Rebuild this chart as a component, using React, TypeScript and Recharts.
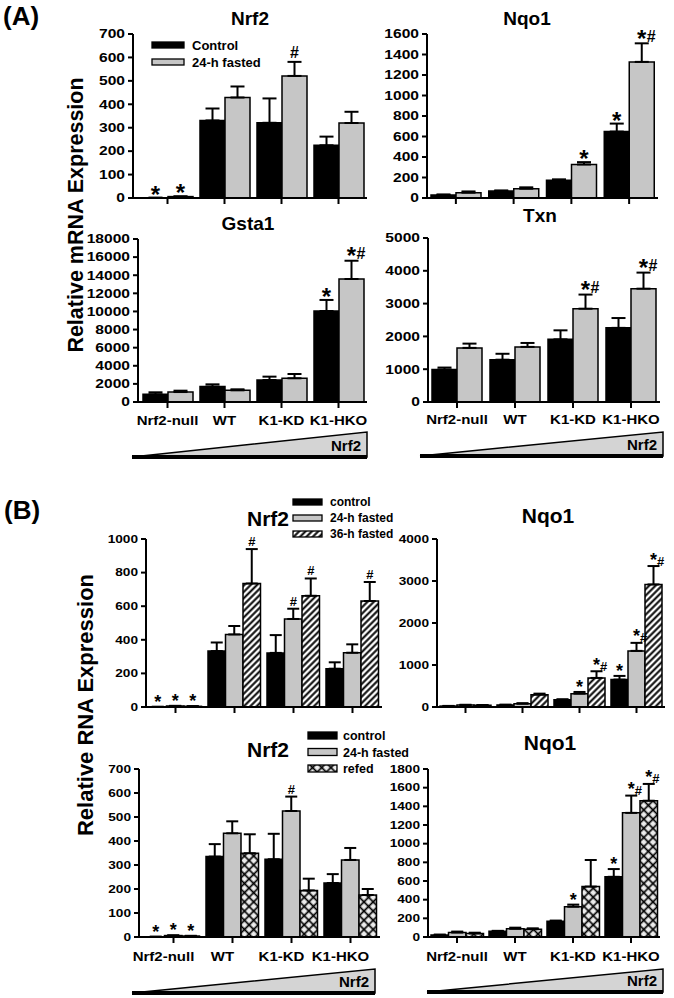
import React from 'react'
import { Bar, BarChart, ErrorBar, LabelList, XAxis, YAxis } from 'recharts'

const FONT = '"Liberation Sans", Arial, Helvetica, sans-serif'
const GRAY = '#c6c6c6'

const groups = ['Nrf2-null', 'WT', 'K1-KD', 'K1-HKO']

// (A) control vs 24-h fasted
const aNrf2Ctrl = [1, 331, 321, 225]
const aNrf2CtrlSem = [0, 51, 104, 37]
const aNrf2Fast = [6, 429, 521, 320]
const aNrf2FastSem = [1, 47, 60, 48]
const aNrf2CtrlSig = ['*', '', '', '']
const aNrf2FastSig = ['*', '', '#', '']
const aNrf2Ticks = [0, 100, 200, 300, 400, 500, 600, 700]

const aNqo1Ctrl = [29, 68, 172, 648]
const aNqo1CtrlSem = [6, 6, 10, 78]
const aNqo1Fast = [52, 91, 327, 1328]
const aNqo1FastSem = [12, 13, 23, 181]
const aNqo1CtrlSig = ['', '', '', '*']
const aNqo1FastSig = ['', '', '*', '*#']
const aNqo1Ticks = [0, 200, 400, 600, 800, 1000, 1200, 1400, 1600]

const aGsta1Ctrl = [850, 1700, 2430, 10050]
const aGsta1CtrlSem = [220, 250, 370, 1220]
const aGsta1Fast = [1100, 1290, 2620, 13580]
const aGsta1FastSem = [150, 110, 470, 2020]
const aGsta1CtrlSig = ['', '', '', '*']
const aGsta1FastSig = ['', '', '', '*#']
const aGsta1Ticks = [0, 2000, 4000, 6000, 8000, 10000, 12000, 14000, 16000, 18000]

const aTxnCtrl = [990, 1290, 1910, 2260]
const aTxnCtrlSem = [60, 180, 275, 300]
const aTxnFast = [1650, 1680, 2845, 3455]
const aTxnFastSem = [130, 120, 430, 490]
const aTxnCtrlSig = ['', '', '', '']
const aTxnFastSig = ['', '', '*#', '*#']
const aTxnTicks = [0, 1000, 2000, 3000, 4000, 5000]

// (B) upper row: control / 24-h / 36-h fasted
const bNrf2Ctrl = [1, 333, 322, 228]
const bNrf2CtrlSem = [0, 51, 106, 38]
const bNrf2F24 = [6, 432, 524, 323]
const bNrf2F24Sem = [1, 50, 61, 50]
const bNrf2F36 = [4, 735, 662, 631]
const bNrf2F36Sem = [1, 205, 103, 113]
const bNrf2CtrlSig = ['*', '', '', '']
const bNrf2F24Sig = ['*', '', '#', '']
const bNrf2F36Sig = ['*', '#', '#', '#']
const bNrf2Ticks = [0, 200, 400, 600, 800, 1000]

const bNqo1Ctrl = [22, 50, 175, 652]
const bNqo1CtrlSem = [4, 5, 8, 88]
const bNqo1F24 = [45, 80, 318, 1336]
const bNqo1F24Sem = [8, 10, 40, 191]
const bNqo1F36 = [40, 294, 692, 2918]
const bNqo1F36Sem = [8, 24, 159, 438]
const bNqo1CtrlSig = ['', '', '', '*']
const bNqo1F24Sig = ['', '', '*', '*#']
const bNqo1F36Sig = ['', '', '*#', '*#']
const bNqo1Ticks = [0, 1000, 2000, 3000, 4000]

// (B) lower row: control / 24-h fasted / refed
const cNrf2Ctrl = [1, 335, 324, 225]
const cNrf2CtrlSem = [0, 52, 106, 37]
const cNrf2F24 = [6, 432, 525, 321]
const cNrf2F24Sem = [1, 50, 60, 50]
const cNrf2Refed = [4, 349, 194, 175]
const cNrf2RefedSem = [1, 79, 49, 25]
const cNrf2CtrlSig = ['*', '', '', '']
const cNrf2F24Sig = ['*', '', '#', '']
const cNrf2RefedSig = ['*', '', '', '']
const cNrf2Ticks = [0, 100, 200, 300, 400, 500, 600, 700]

const cNqo1Ctrl = [22, 62, 168, 645]
const cNqo1CtrlSem = [4, 4, 8, 83]
const cNqo1F24 = [48, 88, 325, 1330]
const cNqo1F24Sem = [10, 12, 22, 185]
const cNqo1Refed = [38, 83, 540, 1460]
const cNqo1RefedSem = [8, 10, 285, 180]
const cNqo1CtrlSig = ['', '', '', '*']
const cNqo1F24Sig = ['', '', '*', '*#']
const cNqo1RefedSig = ['', '', '', '*#']
const cNqo1Ticks = [0, 200, 400, 600, 800, 1000, 1200, 1400, 1600, 1800]

type Series = { name: string; values: number[]; sem: number[]; sig: string[]; fill: string }

const ser = (name: string, values: number[], sem: number[], sig: string[], fill: string): Series => ({
  name,
  values,
  sem,
  sig,
  fill,
})

function buildRows(series: Series[]) {
  return groups.map((g, i) => {
    const row: any = { group: g }
    series.forEach((s, k) => {
      row[`v${k}`] = s.values[i]
      row[`e${k}`] = [0, s.sem[i]]
      row[`m${k}`] = s.sig[i]
    })
    return row
  })
}

const yTick = (fs: number, sx: number) => (p: any) => (
  <g transform={`translate(${p.x},${p.y})`}>
    <text
      textAnchor="end"
      dy="0.36em"
      transform={`scale(${sx},1)`}
      fontSize={fs}
      fontWeight="bold"
      fontFamily={FONT}
      fill="#000"
    >
      {p.payload.value}
    </text>
  </g>
)

const xTick = (show: boolean, fs: number, sx: number, dy: number, dx: number) => (p: any) =>
  show ? (
    <g transform={`translate(${p.x + dx},${p.y})`}>
      <text
        textAnchor="middle"
        dy={dy}
        transform={`scale(${sx},1)`}
        fontSize={fs}
        fontWeight="bold"
        fontFamily={FONT}
        fill="#000"
      >
        {p.payload.value}
      </text>
    </g>
  ) : (
    <g />
  )

// significance marks sit just above the error cap of their bar
const sigLabel = (rows: any[], k: number, starFs: number, hashFs: number, starOff: number, hashOff: number) =>
  (p: any) => {
    const row = rows[p.index]
    if (!row) return null
    const mark: string = row[`m${k}`]
    if (!mark) return null
    const vb = p.viewBox ?? p
    const x = Number(vb.x)
    const y = Number(vb.y)
    const w = Number(vb.width)
    const h = Number(vb.height)
    const val = row[`v${k}`]
    const err = row[`e${k}`][1]
    const cap = val > 0 ? y - (err * h) / val : y
    const pair = mark.length > 1
    const hashY = pair ? cap - hashOff + 2.5 : cap - hashOff
    const starY = pair ? cap + starOff - 1.5 : cap + starOff
    return (
      <text x={x + w / 2} textAnchor="middle" fontFamily={FONT} fontWeight="bold" fill="#000">
        {mark.split('').map((c, j) =>
          c === '*' ? (
            <tspan key={j} y={starY} fontSize={starFs}>
              *
            </tspan>
          ) : (
            <tspan key={j} y={hashY} fontSize={hashFs}>
              {c}
            </tspan>
          ),
        )}
      </text>
    )
  }

interface PanelProps {
  box: { x0: number; x1: number; yTop: number; y0: number }
  series: Series[]
  ticks: number[]
  barSize: number
  cap: number
  tickFs: number
  tickSx: number
  labels: boolean
  labelDy?: number
  labelDx?: number
  padLeft: number
  small?: boolean
}

function Panel({
  box,
  series,
  ticks,
  barSize,
  cap,
  tickFs,
  tickSx,
  labels,
  labelDy = 15,
  labelDx = 0,
  padLeft,
  small,
}: PanelProps) {
  const YW = 60
  const MT = 28
  const MR = 8
  const XH = 34
  const left = box.x0 - YW
  const top = box.yTop - MT
  const width = box.x1 - left + MR
  const height = box.y0 - top + XH
  const rows = buildRows(series)
  const axisStyle = { stroke: '#000', strokeWidth: 2 }
  return (
    <div style={{ position: 'absolute', left, top, width, height }}>
      <BarChart
        width={width}
        height={height}
        data={rows}
        margin={{ top: MT, right: MR, left: 0, bottom: 0 }}
        barGap={0}
        barSize={barSize}
      >
        <XAxis
          dataKey="group"
          height={XH}
          axisLine={axisStyle}
          tickLine={axisStyle}
          tickSize={6}
          tickMargin={2}
          interval={0}
          padding={{ left: padLeft, right: 0 }}
          tick={xTick(labels, 12.5, 1.2, labelDy, labelDx)}
        />
        <YAxis
          width={YW}
          domain={[ticks[0], ticks[ticks.length - 1]]}
          ticks={ticks}
          interval={0}
          axisLine={axisStyle}
          tickLine={axisStyle}
          tickSize={5}
          tickMargin={3}
          tick={yTick(tickFs, tickSx)}
        />
        {series.map((s, k) => (
          <Bar
            key={s.name}
            dataKey={`v${k}`}
            name={s.name}
            fill={s.fill}
            stroke="#000"
            strokeWidth={1.5}
            isAnimationActive={false}
          >
            <ErrorBar dataKey={`e${k}`} direction="y" width={cap} stroke="#000" strokeWidth={2} />
            <LabelList
              dataKey={`m${k}`}
              content={small ? sigLabel(rows, k, 18, 13, 1, 3) : sigLabel(rows, k, 24, 16, 5, 4)}
            />
          </Bar>
        ))}
      </BarChart>
    </div>
  )
}

const aNrf2Series = [
  ser('Control', aNrf2Ctrl, aNrf2CtrlSem, aNrf2CtrlSig, '#000'),
  ser('24-h fasted', aNrf2Fast, aNrf2FastSem, aNrf2FastSig, GRAY),
]
const aNqo1Series = [
  ser('Control', aNqo1Ctrl, aNqo1CtrlSem, aNqo1CtrlSig, '#000'),
  ser('24-h fasted', aNqo1Fast, aNqo1FastSem, aNqo1FastSig, GRAY),
]
const aGsta1Series = [
  ser('Control', aGsta1Ctrl, aGsta1CtrlSem, aGsta1CtrlSig, '#000'),
  ser('24-h fasted', aGsta1Fast, aGsta1FastSem, aGsta1FastSig, GRAY),
]
const aTxnSeries = [
  ser('Control', aTxnCtrl, aTxnCtrlSem, aTxnCtrlSig, '#000'),
  ser('24-h fasted', aTxnFast, aTxnFastSem, aTxnFastSig, GRAY),
]
const bNrf2Series = [
  ser('control', bNrf2Ctrl, bNrf2CtrlSem, bNrf2CtrlSig, '#000'),
  ser('24-h fasted', bNrf2F24, bNrf2F24Sem, bNrf2F24Sig, GRAY),
  ser('36-h fasted', bNrf2F36, bNrf2F36Sem, bNrf2F36Sig, 'url(#hatch36)'),
]
const bNqo1Series = [
  ser('control', bNqo1Ctrl, bNqo1CtrlSem, bNqo1CtrlSig, '#000'),
  ser('24-h fasted', bNqo1F24, bNqo1F24Sem, bNqo1F24Sig, GRAY),
  ser('36-h fasted', bNqo1F36, bNqo1F36Sem, bNqo1F36Sig, 'url(#hatch36)'),
]
const cNrf2Series = [
  ser('control', cNrf2Ctrl, cNrf2CtrlSem, cNrf2CtrlSig, '#000'),
  ser('24-h fasted', cNrf2F24, cNrf2F24Sem, cNrf2F24Sig, GRAY),
  ser('refed', cNrf2Refed, cNrf2RefedSem, cNrf2RefedSig, 'url(#cross)'),
]
const cNqo1Series = [
  ser('control', cNqo1Ctrl, cNqo1CtrlSem, cNqo1CtrlSig, '#000'),
  ser('24-h fasted', cNqo1F24, cNqo1F24Sem, cNqo1F24Sig, GRAY),
  ser('refed', cNqo1Refed, cNqo1RefedSem, cNqo1RefedSig, 'url(#cross)'),
]

const txt = { fontFamily: FONT, fontWeight: 'bold' as const, fill: '#000' }

function Wedge({ x0, x1, yt, yb }: { x0: number; x1: number; yt: number; yb: number }) {
  return (
    <g>
      <polygon points={`${x0},${yb} ${x1},${yt} ${x1},${yb}`} fill="#d4d4d4" stroke="#000" strokeWidth={1.5} />
      <line x1={x0} y1={yb} x2={x1} y2={yb} stroke="#000" strokeWidth={4} />
      <text x={x1 - 6} y={yb - 6} textAnchor="end" fontSize={15} {...txt}>
        Nrf2
      </text>
    </g>
  )
}

function LegendBox({ series, x, y, step, w, h, fs, gap }: any) {
  return (
    <g>
      {series.map((s: Series, i: number) => (
        <g key={s.name}>
          <rect x={x} y={y + i * step} width={w} height={h} fill={s.fill} stroke="#000" strokeWidth={1.3} />
          <text x={x + w + gap} y={y + i * step + h / 2 + fs * 0.36} fontSize={fs} {...txt}>
            {s.name}
          </text>
        </g>
      ))}
    </g>
  )
}

export default function App() {
  return (
    <div style={{ position: 'absolute', left: 0, top: 0, width: 674, height: 998, background: '#fff' }}>
      <Panel box={{ x0: 133, x1: 367, yTop: 34, y0: 198 }} series={aNrf2Series} ticks={aNrf2Ticks}
        barSize={25} cap={7} tickFs={12} tickSx={1.3} labels={false} padLeft={6} />
      <Panel box={{ x0: 427, x1: 658, yTop: 34, y0: 198 }} series={aNqo1Series} ticks={aNqo1Ticks}
        barSize={25} cap={7} tickFs={12} tickSx={1.3} labels={false} padLeft={0} />
      <Panel box={{ x0: 138, x1: 367, yTop: 239, y0: 402 }} series={aGsta1Series} ticks={aGsta1Ticks}
        barSize={25} cap={7} tickFs={12} tickSx={1.3} labels labelDy={15} padLeft={1} />
      <Panel box={{ x0: 428, x1: 660, yTop: 238, y0: 402 }} series={aTxnSeries} ticks={aTxnTicks}
        barSize={25} cap={7} tickFs={12} tickSx={1.3} labels labelDy={14} padLeft={0} />
      <Panel box={{ x0: 146, x1: 382, yTop: 539, y0: 707 }} series={bNrf2Series} ticks={bNrf2Ticks}
        barSize={17.5} cap={6} tickFs={10.5} tickSx={1.3} labels={false} padLeft={0} small />
      <Panel box={{ x0: 437, x1: 665, yTop: 539, y0: 707 }} series={bNqo1Series} ticks={bNqo1Ticks}
        barSize={17} cap={6} tickFs={10.5} tickSx={1.3} labels={false} padLeft={0} small />
      <Panel box={{ x0: 139, x1: 380, yTop: 769, y0: 937 }} series={cNrf2Series} ticks={cNrf2Ticks}
        barSize={17.5} cap={6} tickFs={10.5} tickSx={1.3} labels labelDy={16} labelDx={-10} padLeft={5} small />
      <Panel box={{ x0: 428, x1: 660, yTop: 769, y0: 937 }} series={cNqo1Series} ticks={cNqo1Ticks}
        barSize={17.5} cap={6} tickFs={10.5} tickSx={1.3} labels labelDy={16} padLeft={0} small />

      <svg width={674} height={998} style={{ position: 'absolute', left: 0, top: 0, pointerEvents: 'none' }}>
        <defs>
          <pattern id="hatch36" patternUnits="userSpaceOnUse" width="4.5" height="4.5" patternTransform="rotate(45)">
            <rect width="4.5" height="4.5" fill="#fff" />
            <line x1="2.25" y1="0" x2="2.25" y2="4.5" stroke="#000" strokeWidth="2" />
          </pattern>
          <pattern id="cross" patternUnits="userSpaceOnUse" width="6.5" height="6.5" patternTransform="rotate(45)">
            <rect width="6.5" height="6.5" fill="#ececec" />
            <line x1="3.25" y1="0" x2="3.25" y2="6.5" stroke="#000" strokeWidth="1.7" />
            <line x1="0" y1="3.25" x2="6.5" y2="3.25" stroke="#000" strokeWidth="1.7" />
          </pattern>
        </defs>

        <text x={3} y={25} fontSize={26} {...txt}>(A)</text>
        <text x={4} y={519} fontSize={26} {...txt}>(B)</text>

        <text transform="translate(75,215) rotate(-90)" textAnchor="middle" dy="0.35em" fontSize={21.5} {...txt}>
          Relative mRNA Expression
        </text>
        <text transform="translate(85,705) rotate(-90)" textAnchor="middle" dy="0.35em" fontSize={22} {...txt}>
          Relative RNA Expression
        </text>

        <text x={250} y={25} textAnchor="middle" fontSize={19} {...txt}>Nrf2</text>
        <text x={527} y={25} textAnchor="middle" fontSize={19} {...txt}>Nqo1</text>
        <text x={248} y={230} textAnchor="middle" fontSize={19} {...txt}>Gsta1</text>
        <text x={540} y={222} textAnchor="middle" fontSize={19} {...txt}>Txn</text>
        <text x={268} y={526} textAnchor="middle" fontSize={21} {...txt}>Nrf2</text>
        <text x={548} y={523} textAnchor="middle" fontSize={21} {...txt}>Nqo1</text>
        <text x={268} y={757} textAnchor="middle" fontSize={21} {...txt}>Nrf2</text>
        <text x={550} y={750} textAnchor="middle" fontSize={21} {...txt}>Nqo1</text>

        <LegendBox series={aNrf2Series} x={152} y={42} step={17} w={32} h={6} fs={13} gap={8} />
        <LegendBox series={bNrf2Series} x={293} y={499} step={16} w={29} h={6} fs={12} gap={8} />
        <LegendBox series={cNrf2Series} x={308} y={732} step={16.5} w={29} h={7} fs={12.5} gap={6} />

        <Wedge x0={132} x1={367} yt={432} yb={457} />
        <Wedge x0={420} x1={663} yt={432} yb={456} />
        <Wedge x0={132} x1={375} yt={969} yb={993} />
        <Wedge x0={427} x1={663} yt={969} yb={992} />
      </svg>
    </div>
  )
}
